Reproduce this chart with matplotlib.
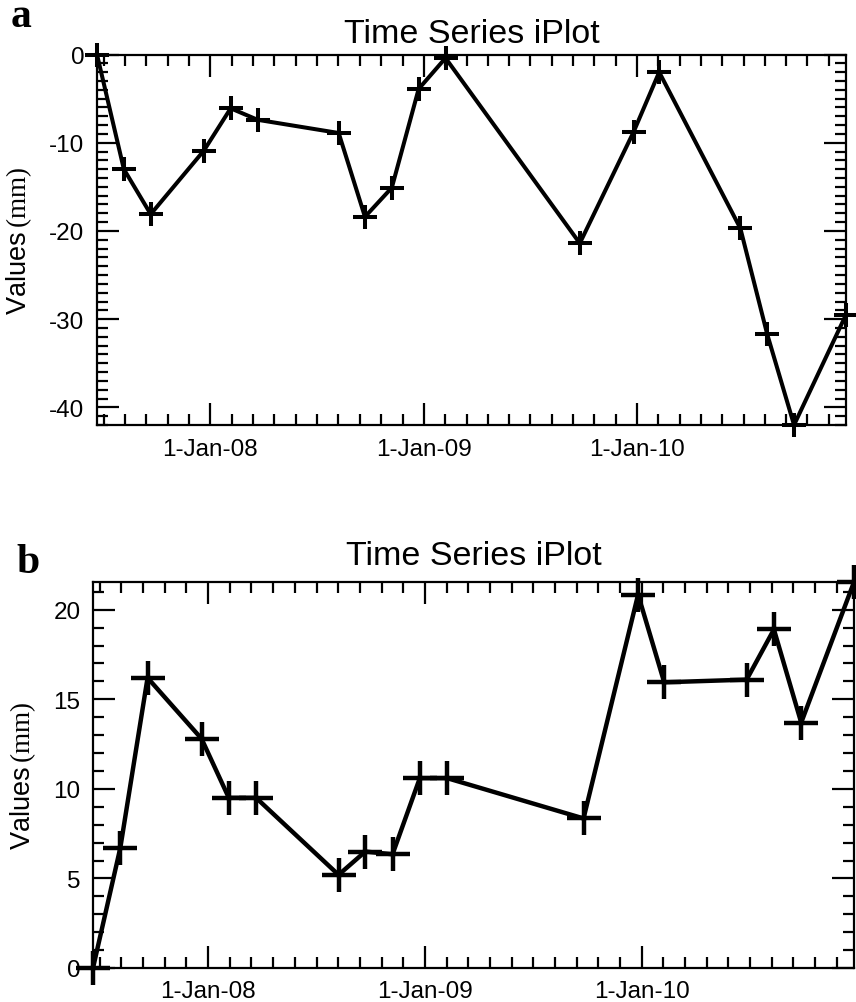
import matplotlib
matplotlib.use("Agg")
import matplotlib.pyplot as plt
import matplotlib.dates as mdates
from matplotlib.ticker import MultipleLocator, FixedLocator
import numpy as np
import datetime as dt

plt.rcParams['font.family'] = ['Liberation Sans', 'DejaVu Sans']
plt.rcParams['axes.unicode_minus'] = False
plt.rcParams['mathtext.fontset'] = 'custom'
plt.rcParams['mathtext.rm'] = 'Liberation Serif'

# acquisition dates
dates = ['2007-06-21', '2007-08-06', '2007-09-21', '2007-12-21', '2008-02-05',
         '2008-03-22', '2008-08-08', '2008-09-22', '2008-11-07', '2008-12-23',
         '2009-02-07', '2009-09-25', '2009-12-26', '2010-02-08', '2010-06-27',
         '2010-08-12', '2010-09-27', '2010-12-25']

values_a = [0, -13.0, -18.1, -10.9, -6.1, -7.4, -8.9, -18.4, -15.1, -3.9,
            -0.4, -21.4, -8.8, -2.0, -19.7, -31.7, -42.0, -29.5]
values_b = [0, 6.7, 16.2, 12.8, 9.5, 9.5, 5.2, 6.5, 6.35, 10.6,
            10.6, 8.35, 20.85, 15.95, 16.1, 18.9, 13.7, 21.55]

year_ticks = [2008, 2009, 2010]
year_labels = ['1-Jan-08', '1-Jan-09', '1-Jan-10']

x = mdates.date2num([dt.datetime.strptime(d, '%Y-%m-%d') for d in dates])

W, H = 856, 1003
fig = plt.figure(figsize=(W / 100, H / 100), dpi=100)


def jan1(y):
    return mdates.date2num(dt.datetime(y, 1, 1))


# minor ticks: ten per year
minor_x = []
for y in range(2007, 2011):
    a, b = jan1(y), jan1(y + 1)
    minor_x += list(np.linspace(a, b, 11)[:-1])


def make_panel(rect, vals, ystep, ms, lw, letter, letter_pos, title_pad):
    ax = fig.add_axes(rect)
    ax.plot(x, vals, color='black', lw=lw, marker='+', ms=ms, mew=lw,
            clip_on=False, zorder=5)
    ax.set_xlim(x[0], x[-1])
    ax.set_ylim(min(vals), max(vals))

    ax.xaxis.set_major_locator(FixedLocator([jan1(y) for y in year_ticks]))
    ax.set_xticklabels(year_labels)
    ax.xaxis.set_minor_locator(FixedLocator(minor_x))
    ax.yaxis.set_major_locator(MultipleLocator(ystep))
    ax.yaxis.set_minor_locator(MultipleLocator(1))

    ax.tick_params(which='both', direction='in', top=True, right=True,
                   width=1.6, labelsize=17.5)
    ax.tick_params(which='major', length=16, pad=9)
    ax.tick_params(which='minor', length=8)
    for s in ax.spines.values():
        s.set_linewidth(1.6)

    ax.set_title('Time Series iPlot', fontsize=24.5, pad=title_pad)
    ax.set_ylabel(r'Values$\,\mathrm{(mm)}$', fontsize=19.5, labelpad=11)
    fig.text(letter_pos[0] / W, 1 - letter_pos[1] / H, letter,
             family='Liberation Serif', weight='bold', fontsize=30)
    return ax


make_panel([97 / W, 1 - 426 / H, (846 - 97) / W, (426 - 55.5) / H],
           values_a, 10, 17, 2.9, 'a', (11, 27), 9)
make_panel([93 / W, 1 - 969 / H, (854 - 93) / W, (969 - 583) / H],
           values_b, 5, 24, 3.2, 'b', (16, 573), 13)

fig.savefig('out.png', dpi=100)
